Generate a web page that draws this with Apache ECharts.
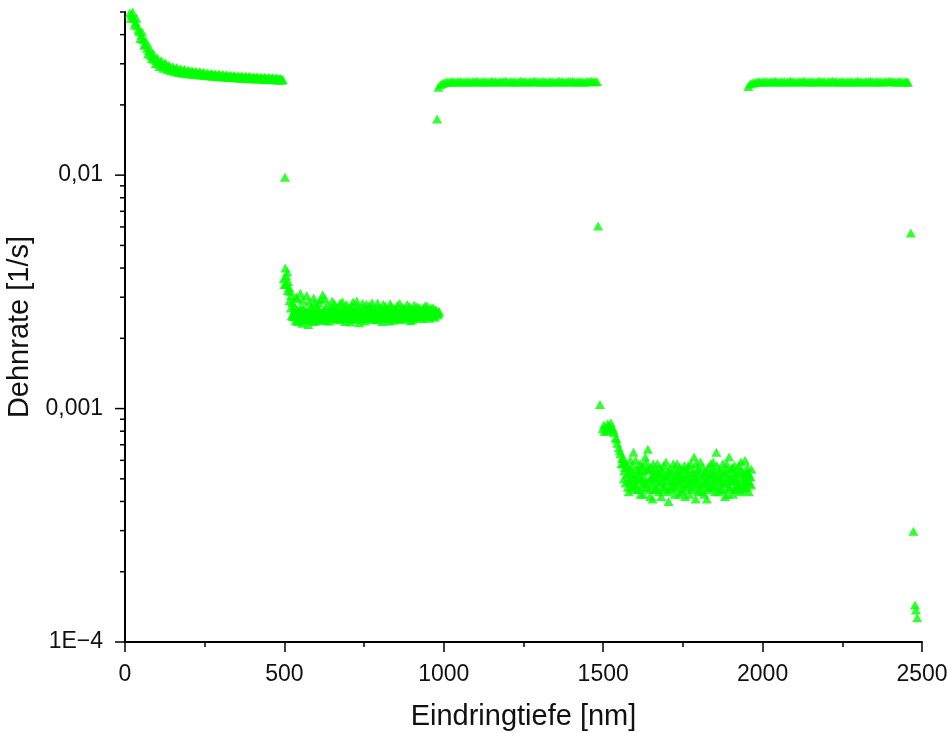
<!DOCTYPE html>
<html>
<head>
<meta charset="utf-8">
<script src="https://cdn.jsdelivr.net/npm/echarts@6/dist/echarts.min.js"></script>
<style>
  html, body { margin: 0; padding: 0; background: #fff; }
  #chart { width: 947px; height: 733px; }
</style>
</head>
<body>
<div id="chart"></div>
<script>
// Strain rate vs. indentation depth, rate-jump test (depth in nm, rate in 1/s)

// first plateau, high rate (two interleaved passes)
const segA = [
  [15,0.0495],[21,0.0488],[27,0.0470],[33,0.0452],[39,0.0436],[45,0.0412],[51,0.0398],[57,0.0381],
  [63,0.0365],[69,0.0350],[75,0.0341],[81,0.0326],[87,0.0322],[93,0.0314],[99,0.0309],[105,0.0301],
  [111,0.0304],[117,0.0296],[123,0.0293],[129,0.0298],[135,0.0289],[141,0.0291],[147,0.0284],[153,0.0287],
  [159,0.0282],[165,0.0285],[171,0.0279],[177,0.0283],[183,0.0278],[189,0.0281],[195,0.0276],[201,0.0279],
  [207,0.0275],[213,0.0277],[219,0.0274],[225,0.0276],[231,0.0272],[237,0.0275],[243,0.0271],[249,0.0273],
  [255,0.0270],[261,0.0272],[267,0.0269],[273,0.0271],[279,0.0268],[285,0.0270],[291,0.0267],[297,0.0269],
  [303,0.0266],[309,0.0268],[315,0.0265],[321,0.0267],[327,0.0265],[333,0.0266],[339,0.0264],[345,0.0266],
  [351,0.0263],[357,0.0265],[363,0.0263],[369,0.0264],[375,0.0262],[381,0.0264],[387,0.0262],[393,0.0263],
  [399,0.0261],[405,0.0263],[411,0.0261],[417,0.0262],[423,0.0260],[429,0.0262],[435,0.0260],[441,0.0261],
  [447,0.0259],[453,0.0261],[459,0.0259],[465,0.0260],[471,0.0258],[477,0.0260],[483,0.0258],[489,0.0259],
  [495,0.0257]
];
const segA2 = [
  [18,0.0470],[24,0.0500],[30,0.0440],[36,0.0470],[42,0.0420],[48,0.0385],[54,0.0410],[60,0.0360],
  [66,0.0375],[72,0.0330],[78,0.0350],[84,0.0315],[90,0.0330],[96,0.0300],[102,0.0318],[108,0.0292],
  [114,0.0310],[120,0.0287],[126,0.0303],[132,0.0283],[138,0.0296],[144,0.0280],[150,0.0292],[156,0.0277],
  [162,0.0289],[168,0.0275],[174,0.0286],[180,0.0273],[186,0.0284],[192,0.0272],[198,0.0282],[204,0.0271],
  [210,0.0280],[216,0.0270],[222,0.0279],[228,0.0269],[234,0.0277],[240,0.0268],[246,0.0276],[252,0.0267],
  [258,0.0274],[264,0.0266],[270,0.0273],[276,0.0265],[282,0.0272],[288,0.0264],[294,0.0271],[300,0.0264],
  [306,0.0270],[312,0.0263],[318,0.0269],[324,0.0262],[330,0.0268],[336,0.0262],[342,0.0267],[348,0.0261],
  [354,0.0266],[360,0.0260],[366,0.0266],[372,0.0260],[378,0.0265],[384,0.0259],[390,0.0265],[396,0.0259],
  [402,0.0264],[408,0.0258],[414,0.0264],[420,0.0258],[426,0.0263],[432,0.0257],[438,0.0263],[444,0.0257],
  [450,0.0262],[456,0.0256],[462,0.0262],[468,0.0256],[474,0.0261],[480,0.0255],[486,0.0260],[492,0.0255]
];

// jump down
const jumpAB = [[502,0.0098]];

// second plateau, low rate (three interleaved passes)
const segB = [
  [500,0.00340],[503,0.00400],[506,0.00370],[509,0.00385],[512,0.00350],[515,0.00330],[518,0.00318],[521,0.00305],
  [525,0.00285],[530,0.00262],[535,0.00238],[540,0.00296],[545,0.00251],[550,0.00312],[555,0.00232],[560,0.00268],
  [565,0.00245],[570,0.00305],[575,0.00229],[580,0.00258],[585,0.00274],[590,0.00236],[595,0.00283],[600,0.00249],
  [605,0.00265],[610,0.00241],[615,0.00292],[620,0.00307],[625,0.00255],[630,0.00238],[635,0.00277],[640,0.00261],
  [645,0.00246],[650,0.00289],[655,0.00253],[660,0.00242],[665,0.00271],[670,0.00258],[675,0.00283],[680,0.00244],
  [685,0.00262],[690,0.00236],[695,0.00279],[700,0.00254],[705,0.00268],[710,0.00243],[715,0.00286],[720,0.00257],
  [725,0.00247],[730,0.00273],[735,0.00233],[740,0.00261],[745,0.00282],[750,0.00251],[755,0.00266],[760,0.00244],
  [765,0.00276],[770,0.00255],[775,0.00284],[780,0.00248],[785,0.00263],[790,0.00240],[795,0.00272],[800,0.00257],
  [805,0.00245],[810,0.00280],[815,0.00259],[820,0.00246],[825,0.00268],[830,0.00237],[835,0.00274],[840,0.00252],
  [845,0.00265],[850,0.00243],[855,0.00277],[860,0.00256],[865,0.00249],[870,0.00271],[875,0.00244],[880,0.00262],
  [885,0.00279],[890,0.00250],[895,0.00238],[900,0.00268],[905,0.00255],[910,0.00246],[915,0.00273],[920,0.00258],
  [925,0.00247],[930,0.00266],[935,0.00254],[940,0.00275],[945,0.00249],[950,0.00262],[955,0.00244],[960,0.00270],
  [965,0.00257],[970,0.00251],[975,0.00265],[980,0.00256],[985,0.00261]
];
const segB2 = [
  [498,0.00360],[504,0.00340],[510,0.00320],[516,0.00290],[520,0.00270],[523,0.00250],
  [527,0.00248],[532,0.00274],[537,0.00301],[542,0.00236],[547,0.00268],[552,0.00244],[557,0.00291],[562,0.00239],
  [567,0.00262],[572,0.00250],[577,0.00286],[582,0.00241],[587,0.00253],[592,0.00298],[597,0.00237],[602,0.00271],
  [607,0.00284],[612,0.00252],[617,0.00239],[622,0.00263],[627,0.00296],[632,0.00248],[637,0.00256],[642,0.00237],
  [647,0.00270],[652,0.00244],[657,0.00281],[662,0.00259],[667,0.00246],[672,0.00240],[677,0.00265],[682,0.00287],
  [687,0.00250],[692,0.00272],[697,0.00243],[702,0.00262],[707,0.00235],[712,0.00276],[717,0.00252],[722,0.00266],
  [727,0.00289],[732,0.00248],[737,0.00257],[742,0.00242],[747,0.00269],[752,0.00237],[757,0.00280],[762,0.00258],
  [767,0.00246],[772,0.00271],[777,0.00241],[782,0.00266],[787,0.00252],[792,0.00283],[797,0.00245],[802,0.00269],
  [807,0.00236],[812,0.00260],[817,0.00275],[822,0.00251],[827,0.00243],[832,0.00281],[837,0.00256],[842,0.00239],
  [847,0.00268],[852,0.00262],[857,0.00247],[862,0.00282],[867,0.00241],[872,0.00257],[877,0.00270],[882,0.00245],
  [887,0.00259],[892,0.00274],[897,0.00252],[902,0.00240],[907,0.00278],[912,0.00263],[917,0.00249],[922,0.00272],
  [927,0.00256],[932,0.00243],[937,0.00268],[942,0.00257],[947,0.00276],[952,0.00248],[957,0.00263],[962,0.00253],
  [967,0.00271],[972,0.00246],[977,0.00262],[982,0.00254]
];
const segB3 = [
  [529,0.00255],[534,0.00247],[539,0.00266],[544,0.00243],[549,0.00258],[554,0.00270],[559,0.00249],[564,0.00256],
  [569,0.00241],[574,0.00263],[579,0.00252],[584,0.00245],[589,0.00267],[594,0.00254],[599,0.00242],[604,0.00259],
  [609,0.00266],[614,0.00248],[619,0.00255],[624,0.00244],[629,0.00268],[634,0.00251],[639,0.00247],[644,0.00260],
  [649,0.00243],[654,0.00266],[659,0.00253],[664,0.00249],[669,0.00262],[674,0.00245],[679,0.00257],[684,0.00268],
  [689,0.00251],[694,0.00244],[699,0.00260],[704,0.00253],[709,0.00266],[714,0.00247],[719,0.00241],[724,0.00259],
  [729,0.00254],[734,0.00264],[739,0.00248],[744,0.00255],[749,0.00243],[754,0.00261],[759,0.00250],[764,0.00267],
  [769,0.00246],[774,0.00257],[779,0.00263],[784,0.00249],[789,0.00256],[794,0.00244],[799,0.00262],[804,0.00253],
  [809,0.00248],[814,0.00265],[819,0.00243],[824,0.00257],[829,0.00251],[834,0.00262],[839,0.00246],[844,0.00255],
  [849,0.00267],[854,0.00249],[859,0.00243],[864,0.00258],[869,0.00252],[874,0.00264],[879,0.00247],[884,0.00254],
  [889,0.00261],[894,0.00248],[899,0.00256],[904,0.00244],[909,0.00263],[914,0.00251],[919,0.00257],[924,0.00266],
  [929,0.00249],[934,0.00259],[939,0.00252],[944,0.00262],[949,0.00255],[954,0.00268],[959,0.00250],[964,0.00263],
  [969,0.00256],[974,0.00260],[979,0.00252],[984,0.00258]
];

// jump up
const jumpBC = [[979,0.0174]];

// third plateau, high rate
const segC = [
  [983,0.0238],[989,0.0244],[995,0.0247],[1001,0.0249],[1007,0.0250],[1013,0.0251],[1019,0.0250],[1025,0.0252],
  [1031,0.0251],[1037,0.0250],[1043,0.0252],[1049,0.0251],[1055,0.0252],[1061,0.0250],[1067,0.0251],[1073,0.0252],
  [1079,0.0251],[1085,0.0250],[1091,0.0252],[1097,0.0251],[1103,0.0253],[1109,0.0251],[1115,0.0250],[1121,0.0252],
  [1127,0.0251],[1133,0.0252],[1139,0.0250],[1145,0.0251],[1151,0.0253],[1157,0.0251],[1163,0.0252],[1169,0.0250],
  [1175,0.0251],[1181,0.0252],[1187,0.0251],[1193,0.0253],[1199,0.0251],[1205,0.0250],[1211,0.0252],[1217,0.0251],
  [1223,0.0252],[1229,0.0250],[1235,0.0251],[1241,0.0253],[1247,0.0251],[1253,0.0252],[1259,0.0251],[1265,0.0250],
  [1271,0.0252],[1277,0.0251],[1283,0.0253],[1289,0.0251],[1295,0.0252],[1301,0.0250],[1307,0.0251],[1313,0.0252],
  [1319,0.0251],[1325,0.0250],[1331,0.0252],[1337,0.0251],[1343,0.0252],[1349,0.0250],[1355,0.0251],[1361,0.0253],
  [1367,0.0251],[1373,0.0252],[1379,0.0250],[1385,0.0251],[1391,0.0252],[1397,0.0251],[1403,0.0253],[1409,0.0251],
  [1415,0.0250],[1421,0.0252],[1427,0.0251],[1433,0.0252],[1439,0.0250],[1445,0.0251],[1451,0.0252],[1457,0.0251],
  [1463,0.0253],[1469,0.0251],[1475,0.0252],[1481,0.0251]
];

// jump down
const jumpCD = [[1484,0.00605]];

// fourth plateau, lowest rate (three interleaved passes)
const segD = [
  [1490,0.00104],[1499,0.00082],[1504,0.00080],[1509,0.00083],[1514,0.00086],[1519,0.00084],[1524,0.00087],[1529,0.00083],
  [1534,0.00079],[1539,0.00075],[1544,0.00071],[1549,0.00068],[1554,0.00064],[1559,0.00061],[1563,0.00058],[1566,0.00054],
  [1570,0.00048],[1575,0.00056],[1580,0.00044],[1585,0.00060],[1590,0.00051],[1595,0.00065],[1600,0.00047],[1605,0.00055],
  [1610,0.00045],[1615,0.00058],[1620,0.00050],[1625,0.00043],[1630,0.00054],[1635,0.00059],[1640,0.00067],[1645,0.00049],
  [1650,0.00056],[1655,0.00041],[1660,0.00052],[1665,0.00046],[1670,0.00058],[1675,0.00044],[1680,0.00053],[1685,0.00049],
  [1690,0.00057],[1695,0.00045],[1700,0.00051],[1705,0.00040],[1710,0.00055],[1715,0.00047],[1720,0.00058],[1725,0.00043],
  [1730,0.00052],[1735,0.00048],[1740,0.00056],[1745,0.00044],[1750,0.00050],[1755,0.00057],[1760,0.00046],[1765,0.00053],
  [1770,0.00043],[1775,0.00058],[1780,0.00049],[1785,0.00062],[1790,0.00041],[1795,0.00054],[1800,0.00047],[1805,0.00059],
  [1810,0.00044],[1815,0.00052],[1820,0.00048],[1825,0.00041],[1830,0.00056],[1835,0.00046],[1840,0.00053],[1845,0.00059],
  [1850,0.00044],[1855,0.00065],[1860,0.00050],[1865,0.00055],[1870,0.00045],[1875,0.00058],[1880,0.00048],[1885,0.00053],
  [1890,0.00043],[1895,0.00062],[1900,0.00049],[1905,0.00056],[1910,0.00045],[1915,0.00052],[1920,0.00047],[1925,0.00057],
  [1930,0.00044],[1935,0.00054],[1940,0.00049],[1945,0.00060],[1950,0.00046],[1955,0.00053],[1960,0.00048],[1965,0.00055]
];
const segD2 = [
  [1502,0.00085],[1512,0.00080],[1522,0.00082],[1532,0.00081],[1542,0.00074],[1552,0.00066],[1557,0.00058],[1562,0.00062],
  [1565,0.00050],[1568,0.00056],
  [1572,0.00058],[1577,0.00046],[1582,0.00053],[1587,0.00049],[1592,0.00057],[1597,0.00045],[1602,0.00060],[1607,0.00050],
  [1612,0.00054],[1617,0.00043],[1622,0.00057],[1627,0.00048],[1632,0.00062],[1637,0.00046],[1642,0.00055],[1647,0.00042],
  [1652,0.00051],[1657,0.00058],[1662,0.00045],[1667,0.00054],[1672,0.00049],[1677,0.00056],[1682,0.00042],[1687,0.00052],
  [1692,0.00047],[1697,0.00059],[1702,0.00044],[1707,0.00053],[1712,0.00049],[1717,0.00046],[1722,0.00055],[1727,0.00050],
  [1732,0.00058],[1737,0.00043],[1742,0.00052],[1747,0.00047],[1752,0.00055],[1757,0.00042],[1762,0.00051],[1767,0.00057],
  [1772,0.00048],[1777,0.00045],[1782,0.00054],[1787,0.00050],[1792,0.00058],[1797,0.00044],[1802,0.00052],[1807,0.00048],
  [1812,0.00056],[1817,0.00043],[1822,0.00054],[1827,0.00050],[1832,0.00045],[1837,0.00058],[1842,0.00047],[1847,0.00053],
  [1852,0.00049],[1857,0.00057],[1862,0.00044],[1867,0.00051],[1872,0.00048],[1877,0.00054],[1882,0.00042],[1887,0.00058],
  [1892,0.00050],[1897,0.00046],[1902,0.00055],[1907,0.00043],[1912,0.00057],[1917,0.00049],[1922,0.00053],[1927,0.00046],
  [1932,0.00059],[1937,0.00045],[1942,0.00052],[1947,0.00048],[1952,0.00056],[1957,0.00044],[1962,0.00051]
];
const segD3 = [
  [1574,0.00052],[1579,0.00049],[1584,0.00055],[1589,0.00046],[1594,0.00053],[1599,0.00050],[1604,0.00047],[1609,0.00052],
  [1614,0.00049],[1619,0.00054],[1624,0.00046],[1629,0.00051],[1634,0.00048],[1639,0.00055],[1644,0.00045],[1649,0.00050],
  [1654,0.00047],[1659,0.00054],[1664,0.00050],[1669,0.00045],[1674,0.00052],[1679,0.00048],[1684,0.00055],[1689,0.00046],
  [1694,0.00051],[1699,0.00049],[1704,0.00054],[1709,0.00045],[1714,0.00052],[1719,0.00048],[1724,0.00050],[1729,0.00046],
  [1734,0.00054],[1739,0.00049],[1744,0.00052],[1749,0.00045],[1754,0.00051],[1759,0.00048],[1764,0.00055],[1769,0.00047],
  [1774,0.00050],[1779,0.00053],[1784,0.00046],[1789,0.00051],[1794,0.00048],[1799,0.00055],[1804,0.00045],[1809,0.00050],
  [1814,0.00047],[1819,0.00053],[1824,0.00049],[1829,0.00046],[1834,0.00052],[1839,0.00050],[1844,0.00055],[1849,0.00047],
  [1854,0.00051],[1859,0.00046],[1864,0.00053],[1869,0.00049],[1874,0.00045],[1879,0.00052],[1884,0.00048],[1889,0.00055],
  [1894,0.00046],[1899,0.00051],[1904,0.00049],[1909,0.00053],[1914,0.00045],[1919,0.00050],[1924,0.00047],[1929,0.00054],
  [1934,0.00048],[1939,0.00051],[1944,0.00046],[1949,0.00053],[1954,0.00049],[1959,0.00051],[1964,0.00047]
];

// fifth plateau, high rate
const segE = [
  [1955,0.0240],[1961,0.0246],[1967,0.0248],[1973,0.0249],[1979,0.0250],[1985,0.0251],[1991,0.0252],[1997,0.0250],
  [2003,0.0251],[2009,0.0252],[2015,0.0251],[2021,0.0250],[2027,0.0252],[2033,0.0251],[2039,0.0253],[2045,0.0251],
  [2051,0.0250],[2057,0.0252],[2063,0.0251],[2069,0.0252],[2075,0.0250],[2081,0.0251],[2087,0.0253],[2093,0.0251],
  [2099,0.0252],[2105,0.0250],[2111,0.0251],[2117,0.0252],[2123,0.0251],[2129,0.0253],[2135,0.0251],[2141,0.0250],
  [2147,0.0252],[2153,0.0251],[2159,0.0252],[2165,0.0250],[2171,0.0251],[2177,0.0253],[2183,0.0251],[2189,0.0252],
  [2195,0.0251],[2201,0.0250],[2207,0.0252],[2213,0.0251],[2219,0.0253],[2225,0.0251],[2231,0.0252],[2237,0.0250],
  [2243,0.0251],[2249,0.0252],[2255,0.0251],[2261,0.0250],[2267,0.0252],[2273,0.0251],[2279,0.0252],[2285,0.0250],
  [2291,0.0251],[2297,0.0253],[2303,0.0251],[2309,0.0252],[2315,0.0250],[2321,0.0251],[2327,0.0252],[2333,0.0251],
  [2339,0.0253],[2345,0.0251],[2351,0.0250],[2357,0.0252],[2363,0.0251],[2369,0.0252],[2375,0.0250],[2381,0.0251],
  [2387,0.0252],[2393,0.0251],[2399,0.0253],[2405,0.0251],[2411,0.0252],[2417,0.0250],[2423,0.0251],[2429,0.0252],
  [2435,0.0251],[2441,0.0250],[2447,0.0252],[2453,0.0251],[2456,0.0250]
];

// unloading tail
const tail = [[2465,0.00565],[2473,0.000298],[2478,0.000144],[2481,0.000137],[2485,0.000127]];

// axis settings
const xTickInterval = 500;
const yLabels = { '-4': '1E\u22124', '-3': '0,001', '-2': '0,01' };
const yMin = 1e-4, yMax = 0.05;

// log-axis ticks: majors at decades, minors at 2..9 per decade
const yTicks = [];
for (let e = -4; e <= -2; e++) {
  const base = Math.pow(10, e);
  yTicks.push([0, base, 1]);
  for (let m = 2; m <= 9; m++) {
    const v = m * base;
    if (v <= yMax * 1.0001) yTicks.push([0, v, 0]);
  }
}

const points = [].concat(segA, segA2, jumpAB, segB, segB2, segB3, jumpBC, segC, jumpCD,
                         segD, segD2, segD3, segE, tail);

const font = "'Liberation Sans', Arial, sans-serif";
const chart = echarts.init(document.getElementById('chart'), null, { renderer: 'canvas' });
chart.setOption({
  animation: false,
  backgroundColor: '#ffffff',
  grid: { left: 125, right: 25, top: 12, bottom: 91, containLabel: false, outerBoundsMode: 'none' },
  xAxis: {
    type: 'value',
    min: 0, max: 2500, interval: xTickInterval,
    name: 'Eindringtiefe [nm]',
    nameLocation: 'middle',
    nameGap: 60,
    nameTextStyle: { fontFamily: font, fontSize: 29, color: '#111' },
    axisLine: { show: true, onZero: false, lineStyle: { color: '#000', width: 2 } },
    axisTick: { show: true, inside: false, length: 10, lineStyle: { color: '#000', width: 1.5 } },
    minorTick: { show: true, splitNumber: 2, length: 5, lineStyle: { color: '#000', width: 1.5 } },
    axisLabel: {
      fontFamily: font, fontSize: 23, color: '#111', margin: 21,
      formatter: function (v) { return String(v); }
    },
    splitLine: { show: false },
    minorSplitLine: { show: false }
  },
  yAxis: {
    type: 'log',
    logBase: 10,
    min: yMin, max: yMax, interval: 1,
    name: 'Dehnrate [1/s]',
    nameLocation: 'middle',
    nameRotate: 90,
    nameGap: 82,
    nameTextStyle: { fontFamily: font, fontSize: 29, color: '#111' },
    axisLine: { show: true, onZero: false, lineStyle: { color: '#000', width: 2 } },
    axisTick: { show: false },
    axisLabel: {
      fontFamily: font, fontSize: 23, color: '#111', margin: 22,
      showMaxLabel: false,
      formatter: function (v) {
        const k = String(Math.round(Math.log10(v)));
        return yLabels[k] !== undefined ? yLabels[k] : '';
      }
    },
    splitLine: { show: false }
  },
  series: [
    {
      type: 'custom',
      silent: true,
      clip: false,
      z: 1,
      data: yTicks,
      renderItem: function (params, api) {
        const p = api.coord([0, api.value(1)]);
        const len = api.value(2) ? 10 : 5;
        return {
          type: 'line',
          shape: { x1: p[0] - len, y1: p[1], x2: p[0], y2: p[1] },
          style: { stroke: '#000', lineWidth: 1.5 }
        };
      }
    },
    {
      type: 'scatter',
      symbol: 'triangle',
      symbolSize: [10, 9],
      itemStyle: { color: '#00ff00' },
      z: 3,
      data: points
    }
  ]
});
</script>
</body>
</html>
